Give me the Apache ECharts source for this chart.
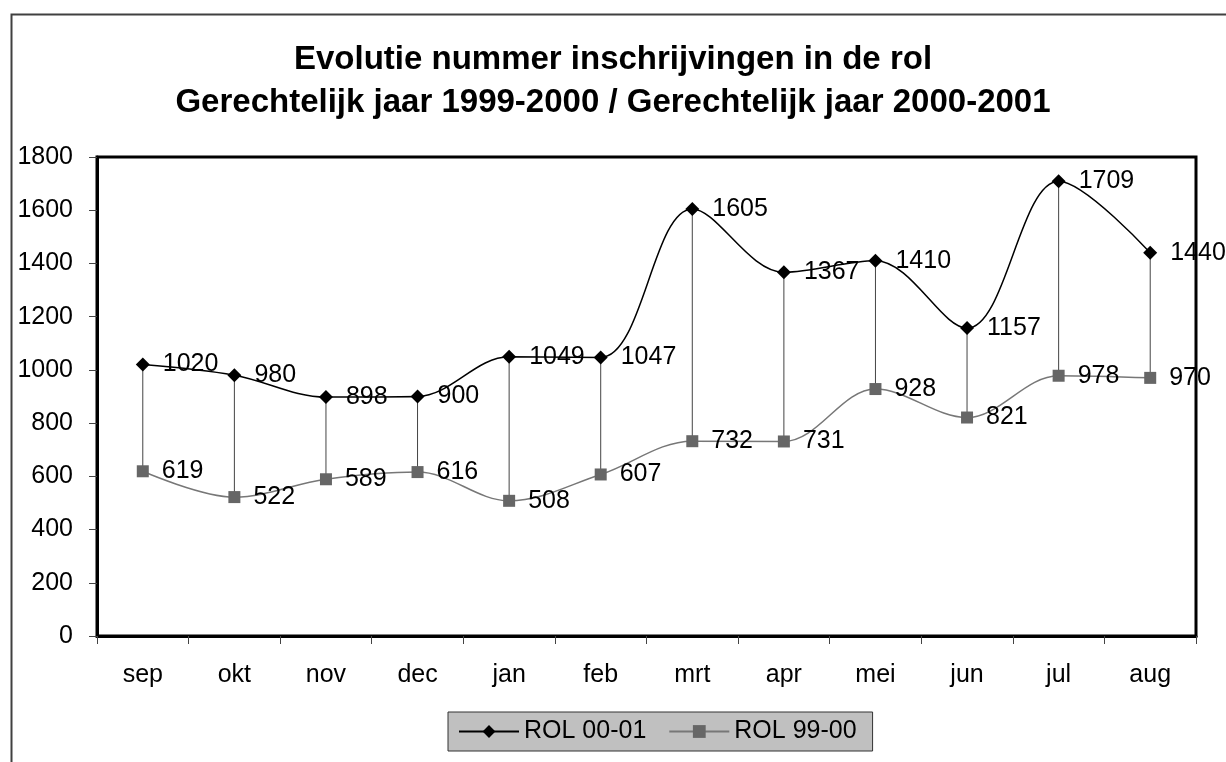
<!DOCTYPE html>
<html>
<head>
<meta charset="utf-8">
<script src="https://cdn.jsdelivr.net/npm/echarts@6/dist/echarts.min.js"></script>
<style>
  html, body { margin: 0; padding: 0; background: #fff; }
  #main { width: 1226px; height: 762px; }
</style>
</head>
<body>
<div id="main"></div>
<script>
var months = ["sep", "okt", "nov", "dec", "jan", "feb", "mrt", "apr", "mei", "jun", "jul", "aug"];
var rol0001 = [1020, 980, 898, 900, 1049, 1047, 1605, 1367, 1410, 1157, 1709, 1440];
var rol9900 = [619, 522, 589, 616, 508, 607, 732, 731, 928, 821, 978, 970];
var yTicks = [0, 200, 400, 600, 800, 1000, 1200, 1400, 1600, 1800];

var FONT = "Liberation Sans, Arial, sans-serif";

var dom = document.getElementById("main");
var myChart = echarts.init(dom, null, { renderer: "canvas" });

// high-low lines between the two series
var dropData = [];
for (var i = 0; i < months.length; i++) {
  dropData.push([i, rol0001[i], rol9900[i]]);
}

var labelStyle = {
  show: true,
  position: "right",
  distance: 13,
  color: "#000",
  fontSize: 25,
  fontFamily: FONT,
};

var option = {
  animation: false,
  backgroundColor: "#fff",
  graphic: [
    {
      type: "rect",
      left: 9,
      top: 12,
      shape: { width: 1400, height: 900 },
      style: { fill: "none", stroke: "#404040", lineWidth: 2 },
      z: -1,
    },
  ],
  title: {
    text: "Evolutie nummer inschrijvingen in de rol\nGerechtelijk jaar 1999-2000 / Gerechtelijk jaar 2000-2001",
    left: "center",
    top: 38,
    padding: 0,
    textStyle: {
      fontFamily: FONT,
      fontSize: 33,
      fontWeight: "bold",
      color: "#000",
      lineHeight: 43,
    },
  },
  legend: {
    data: ["ROL 00-01", "ROL 99-00"],
    left: 448,
    top: 712,
    padding: [7, 16, 7, 10],
    itemGap: 22,
    itemWidth: 60,
    itemHeight: 16,
    backgroundColor: "#c0c0c0",
    borderColor: "#333",
    borderWidth: 1,
    textStyle: { fontFamily: FONT, fontSize: 25, color: "#000" },
  },
  grid: {
    left: 97,
    right: 30,
    top: 157,
    bottom: 126,
    show: true,
    borderColor: "#000",
    borderWidth: 3,
    backgroundColor: "#fff",
    containLabel: false,
  },
  xAxis: {
    type: "category",
    data: months,
    boundaryGap: true,
    axisLine: { show: true, lineStyle: { color: "#000", width: 3 } },
    axisTick: { show: true, interval: 0, length: 8, lineStyle: { color: "#444" } },
    axisLabel: { margin: 27, fontSize: 25, fontFamily: FONT, color: "#000" },
    splitLine: { show: false },
  },
  yAxis: {
    type: "value",
    min: yTicks[0],
    max: yTicks[yTicks.length - 1],
    interval: 200,
    axisLine: { show: true, lineStyle: { color: "#000", width: 3 } },
    axisTick: { show: true, length: 8, lineStyle: { color: "#444" } },
    axisLabel: {
      margin: 24,
      fontSize: 25,
      fontFamily: FONT,
      color: "#000",
      formatter: function (v) { return String(v); },
    },
    splitLine: { show: false },
  },
  series: [
    {
      type: "custom",
      name: "drop",
      data: dropData,
      z: 1,
      silent: true,
      renderItem: function (params, api) {
        var p1 = api.coord([api.value(0), api.value(1)]);
        var p2 = api.coord([api.value(0), api.value(2)]);
        return {
          type: "line",
          shape: { x1: p1[0], y1: p1[1], x2: p2[0], y2: p2[1] },
          style: { stroke: "#444", lineWidth: 1 },
        };
      },
    },
    {
      name: "ROL 00-01",
      type: "line",
      data: rol0001,
      smooth: 0.35,
      symbol: "diamond",
      symbolSize: 14,
      z: 3,
      itemStyle: { color: "#000" },
      lineStyle: { color: "#000", width: 1.5 },
      label: labelStyle,
    },
    {
      name: "ROL 99-00",
      type: "line",
      data: rol9900,
      smooth: 0.35,
      symbol: "rect",
      symbolSize: 12,
      z: 2,
      itemStyle: { color: "#666" },
      lineStyle: { color: "#777", width: 1.5 },
      label: labelStyle,
    },
  ],
};

myChart.setOption(option);
</script>
</body>
</html>
